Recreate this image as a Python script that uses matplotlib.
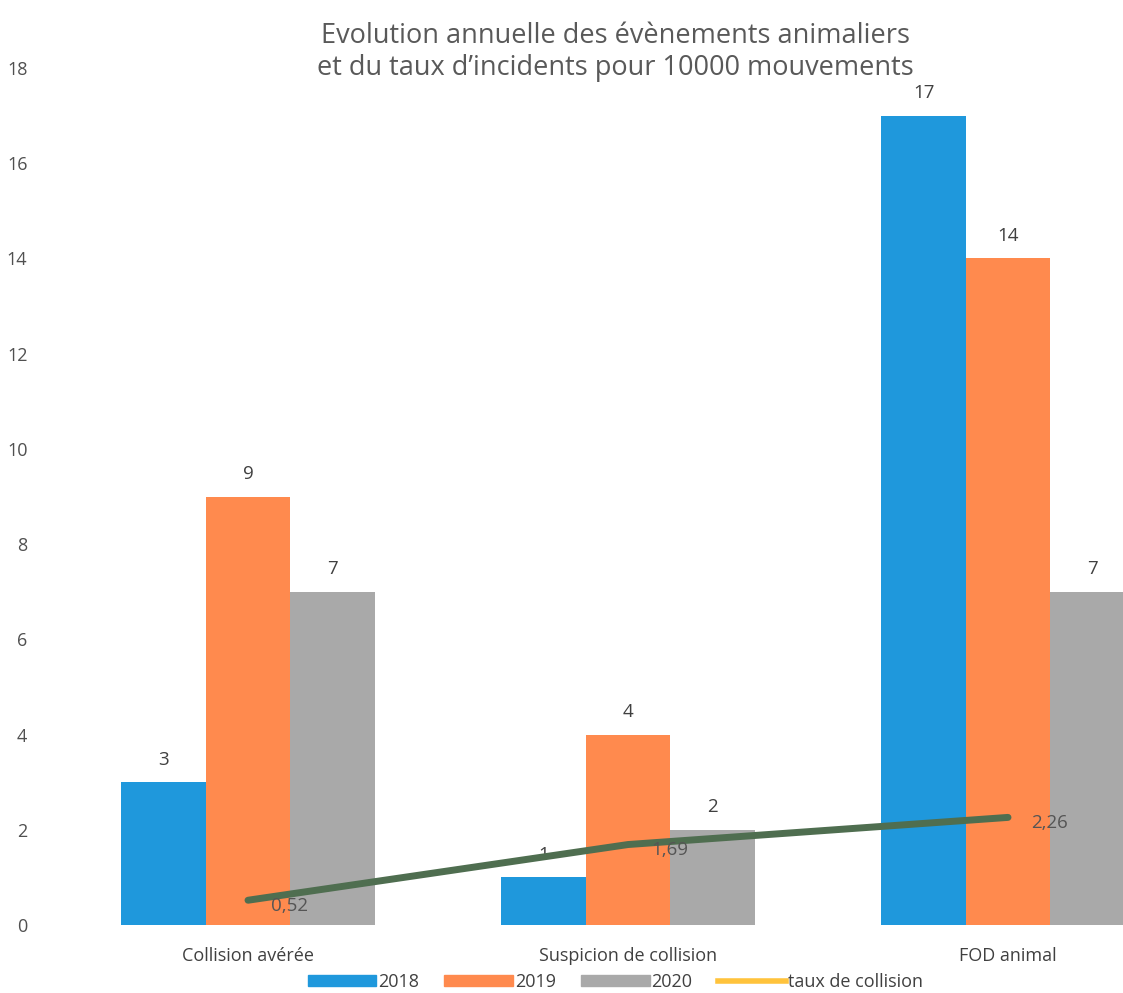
import matplotlib
matplotlib.use("Agg")
from matplotlib import pyplot as plt
from matplotlib.patches import Patch
from matplotlib.lines import Line2D

categories = ["Collision avérée", "Suspicion de collision", "FOD animal"]
years = ["2018", "2019", "2020"]
v2018 = [3, 1, 17]
v2019 = [9, 4, 14]
v2020 = [7, 2, 7]
taux = [0.52, 1.69, 2.26]
taux_labels = ["0,52", "1,69", "2,26"]

colors = ["#1f98dc", "#ff8a4e", "#a9a9a9"]
line_color = "#4f6e50"
legend_line_color = "#ffc33c"
txt = "#404040"

plt.rcParams['font.family'] = ['Open Sans', 'DejaVu Sans']

fig = plt.figure(figsize=(11.23, 9.93), dpi=100)
ax = fig.add_axes([58 / 1123, 1 - 925 / 993, 1140 / 1123, 857 / 993])

w = 0.222
off = 0.222
xs = range(len(categories))
for i, vals in enumerate([v2018, v2019, v2020]):
    pos = [x + (i - 1) * off for x in xs]
    ax.bar(pos, vals, width=w, color=colors[i], zorder=2)
    for p, v in zip(pos, vals):
        ax.text(p, v + 0.28, str(v), ha='center', va='bottom', fontsize=13.5, color=txt)

ax.plot(list(xs), taux, color=line_color, lw=5, solid_capstyle='round', zorder=3)
for x, t, lab in zip(xs, taux, taux_labels):
    ax.text(x + 0.06, t - 0.12, lab, ha='left', va='center', fontsize=13.5, color="#555555", zorder=4)

ax.set_xlim(-0.5, 2.5)
ax.set_ylim(0, 18)
ax.set_yticks(range(0, 19, 2))
ax.set_xticks(list(xs))
ax.set_xticklabels(categories, fontsize=13, color=txt)
ax.tick_params(axis='y', labelsize=13, labelcolor="#505050", length=0, pad=22)
ax.tick_params(axis='x', length=0, pad=16)
for s in ax.spines.values():
    s.set_visible(False)

fig.text(0.548, 0.948, "Evolution annuelle des évènements animaliers\net du taux d\u2019incidents pour 10000 mouvements",
         ha='center', va='center', fontsize=19.5, color="#595959", linespacing=1.2)

handles = [Patch(color=c) for c in colors] + [Line2D([], [], color=legend_line_color, lw=4)]
fig.legend(handles, years + ["taux de collision"], loc='center', bbox_to_anchor=(0.548, 0.011),
           ncol=4, frameon=False, fontsize=13, handlelength=3.8, handleheight=0.55,
           columnspacing=1.4, handletextpad=0.1, labelcolor=txt)

fig.savefig("out.png", dpi=100)
